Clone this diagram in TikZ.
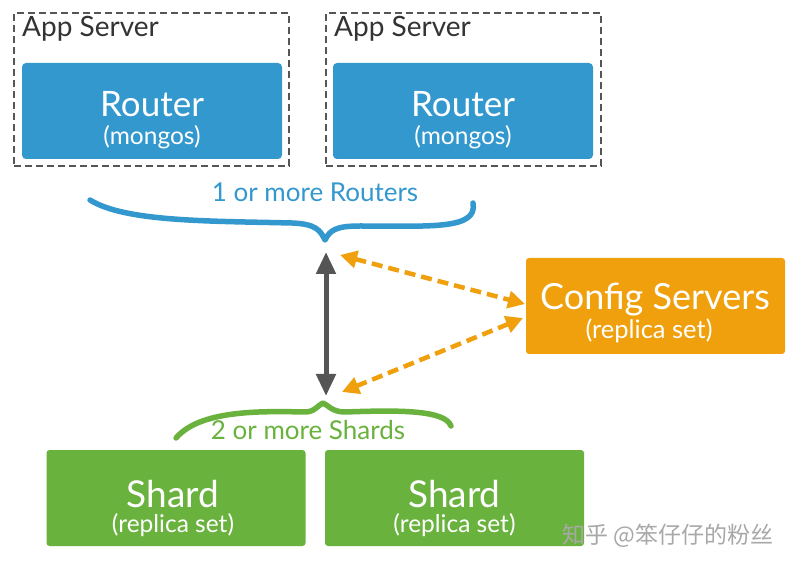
\documentclass[tikz,border=0pt]{standalone}
\usepackage{fontspec}
\setmainfont{Lato}
\newfontfamily\cjk{Noto Sans CJK SC}
\usetikzlibrary{arrows.meta}
\definecolor{rblue}{HTML}{3398CE}
\definecolor{sgreen}{HTML}{6AB23E}
\definecolor{corange}{HTML}{EFA00C}
\definecolor{dgray}{HTML}{555555}
\definecolor{wmgray}{HTML}{A8A8A8}
\tikzset{
  appbox/.style={draw=dgray, line width=2pt, dash pattern=on 7pt off 4pt, minimum width=275pt, minimum height=153pt, inner sep=0pt},
  routerbox/.style={fill=rblue, rounded corners=4pt, minimum width=260pt, minimum height=96pt, inner sep=0pt},
  shardbox/.style={fill=sgreen, rounded corners=3pt, minimum width=259pt, minimum height=96pt, inner sep=0pt},
  cfgbox/.style={fill=corange, rounded corners=3pt, minimum width=259pt, minimum height=96pt, inner sep=0pt},
  bigtxt/.style={text=white, anchor=base, inner sep=0pt, font=\fontsize{35}{38}\selectfont},
  smalltxt/.style={text=white, anchor=base, inner sep=0pt, font=\fontsize{24.5}{26}\selectfont},
  bracelbl/.style={anchor=base, inner sep=0pt, font=\fontsize{26}{28}\selectfont},
  brace/.style={line width=5.5pt, line cap=round, line join=round},
  grayarrow/.style={draw=dgray, line width=5pt, {Triangle[length=22pt,width=19pt]}-{Triangle[length=22pt,width=19pt]}},
  orangearrow/.style={draw=corange, line width=4.5pt, dash pattern=on 11pt off 6pt, {Triangle[length=17pt,width=17pt]}-{Triangle[length=17pt,width=17pt]}},
  apptxt/.style={anchor=base west, inner sep=0pt, text=black!80, font=\fontsize{28}{30}\selectfont}
}
\begin{document}
\begin{tikzpicture}[x=1pt,y=-1pt]
\useasboundingbox (0,0) rectangle (801,569);
\fill[white] (0,0) rectangle (801,569);

% App servers
\node[appbox] (app1) at (151.5,89.5) {};
\node[appbox] (app2) at (463,89.5) {};
\node[apptxt] (applbl1) at (22,37) {App Server};
\node[apptxt] (applbl2) at (334,37) {App Server};

% Routers
\node[routerbox] (r1) at (152,111) {};
\node[routerbox] (r2) at (463,111) {};
\node[bigtxt] (r1t) at (152,117) {Router};
\node[smalltxt] (r1s) at (152,145) {(mongos)};
\node[bigtxt] (r2t) at (463,117) {Router};
\node[smalltxt] (r2s) at (463,145) {(mongos)};

% Router brace
\draw[brace, draw=rblue] (90,200) .. controls (125,222) and (210,221) .. (292,223)
  .. controls (316,224) and (320,230) .. (325,240)
  .. controls (330,230) and (336,226) .. (360,226)
  .. controls (430,226) and (478,230) .. (473,203);
\node[bracelbl, text=rblue] (rlbl) at (315,202) {1 or more Routers};
\coordinate (rtip) at (326,252);

% Config servers
\node[cfgbox] (cfg) at (655.5,306) {};
\node[bigtxt, font=\fontsize{36}{38}\selectfont] (cfgt) at (655,310) {Config Servers};
\node[smalltxt, font=\fontsize{25.5}{28}\selectfont] (cfgs) at (649,339) {(replica set)};
\coordinate (c1) at (525,304);
\coordinate (c2) at (523,318);
\coordinate (rtipo) at (340,255);
\coordinate (stipo) at (342,392);

% Shard brace
\draw[brace, draw=sgreen] (176,438) .. controls (200,410) and (260,411) .. (305,412)
  .. controls (315,412) and (318,405) .. (323,403)
  .. controls (328,405) and (332,412) .. (345,412)
  .. controls (400,410) and (445,410) .. (451,426);
\node[bracelbl, text=sgreen] (slbl) at (308,439) {2 or more Shards};
\coordinate (stip) at (326,396);

% Arrows
\draw[grayarrow] (rtip) -- (stip);
\draw[orangearrow] (rtipo) -- (c1);
\draw[orangearrow] (c2) -- (stipo);

% Shards
\node[shardbox] (s1) at (176,498) {};
\node[shardbox] (s2) at (454.5,498) {};
\node[bigtxt, font=\fontsize{37}{38}\selectfont] (s1t) at (173,507) {Shard};
\node[smalltxt] (s1s) at (173,532) {(replica set)};
\node[bigtxt, font=\fontsize{37}{38}\selectfont] (s2t) at (454.5,507) {Shard};
\node[smalltxt] (s2s) at (454.5,532) {(replica set)};

% watermark
\node[anchor=base west, inner sep=0pt, text=wmgray, font=\cjk\fontsize{23}{26}\selectfont] (wm) at (562,543) {知乎 @笨仔仔的粉丝};
\end{tikzpicture}
\end{document}
